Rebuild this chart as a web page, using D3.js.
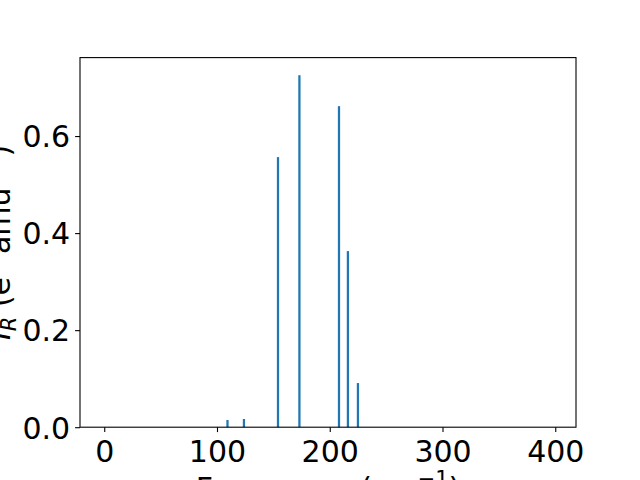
<!DOCTYPE html>
<html><head><meta charset="utf-8">
<script src="https://cdn.jsdelivr.net/npm/d3@7"></script>
<style>body{margin:0;background:#fff}svg{display:block}text{font-family:"DejaVu Sans",sans-serif}</style>
</head><body>
<script>
const frequencies = [109.3, 123.9, 154.1, 173.1, 208.2, 216.1, 225.0];
const intensities = [0.0148, 0.0169, 0.5566, 0.7254, 0.6616, 0.3629, 0.0910];
const xTicks = [0, 100, 200, 300, 400];
const yTicks = [0.0, 0.2, 0.4, 0.6];
const xLimits = [-21.5, 418.4];
const barWidth = 2;

const W = 640, H = 480;
const m = {left: 80, right: 576, top: 57.6, bottom: 427.2};
const svg = d3.select("body").append("svg").attr("width", W).attr("height", H);

const x = d3.scaleLinear().domain(xLimits).range([m.left, m.right]);
const y = d3.scaleLinear().domain([0, d3.max(intensities) * 1.05]).range([m.bottom, m.top]);

svg.append("g").selectAll("rect").data(frequencies).join("rect")
  .attr("x", (d) => x(d - barWidth / 2))
  .attr("width", (d) => x(d + barWidth / 2) - x(d - barWidth / 2))
  .attr("y", (d, i) => y(intensities[i]))
  .attr("height", (d, i) => y(0) - y(intensities[i]))
  .attr("fill", "#1f77b4");

const fs = 30;
const xAxis = svg.append("g").attr("transform", `translate(0,${m.bottom})`)
  .call(d3.axisBottom(x).tickValues(xTicks).tickFormat(d3.format("d")).tickSize(4.9).tickPadding(4.9));
const yAxis = svg.append("g").attr("transform", `translate(${m.left},0)`)
  .call(d3.axisLeft(y).tickValues(yTicks).tickFormat(d3.format(".1f")).tickSize(4.9).tickPadding(4.9));
[xAxis, yAxis].forEach(g => {
  g.select(".domain").remove();
  g.selectAll(".tick line").attr("stroke", "#000").attr("stroke-width", 1.1);
  g.selectAll(".tick text").attr("font-size", fs).attr("fill", "#000").attr("font-family", "DejaVu Sans");
});
xAxis.selectAll(".tick text").attr("dy", null).attr("y", 35);
yAxis.selectAll(".tick text").attr("dy", "0.36em");

svg.append("rect").attr("x", m.left).attr("y", m.top)
  .attr("width", m.right - m.left).attr("height", m.bottom - m.top)
  .attr("fill", "none").attr("stroke", "#000").attr("stroke-width", 1.1);

const xl = svg.append("text").attr("x", (m.left + m.right) / 2).attr("y", 499.4)
  .attr("text-anchor", "middle").attr("font-size", fs);
xl.append("tspan").text("Frequency (cm");
xl.append("tspan").attr("font-size", fs * 0.7).attr("dy", -fs * 0.45).text("−1");
xl.append("tspan").attr("dy", fs * 0.45).text(")");

const yl = svg.append("text").attr("transform", `translate(9.5,${(m.top + m.bottom) / 2}) rotate(-90)`)
  .attr("text-anchor", "middle").attr("font-size", fs);
yl.append("tspan").attr("font-style", "italic").text("I");
yl.append("tspan").attr("font-style", "italic").attr("font-size", fs * 0.7).attr("dy", fs * 0.2).text("R");
yl.append("tspan").attr("dy", -fs * 0.2).text(" (e");
yl.append("tspan").attr("font-size", fs * 0.7).attr("dy", -fs * 0.45).text("2");
yl.append("tspan").attr("dy", fs * 0.45).text(" amu");
yl.append("tspan").attr("font-size", fs * 0.7).attr("dy", -fs * 0.45).text("−1");
yl.append("tspan").attr("dy", fs * 0.45).text(")");
</script>
</body></html>
